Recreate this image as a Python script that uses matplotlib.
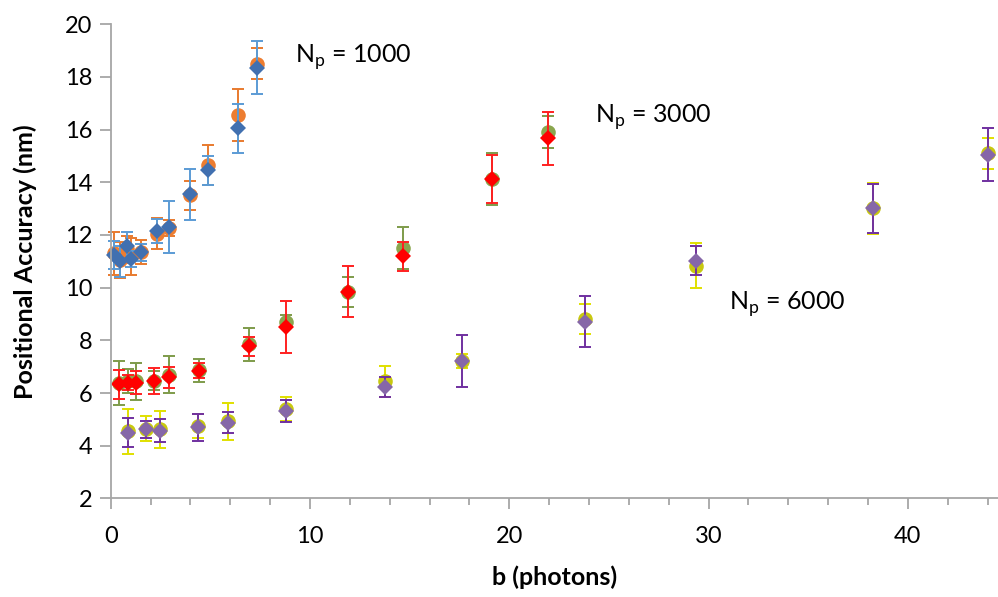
import matplotlib.pyplot as plt
from matplotlib.ticker import MultipleLocator

plt.rcParams['font.family'] = ['Lato', 'DejaVu Sans']
plt.rcParams['mathtext.fontset'] = 'custom'
plt.rcParams['mathtext.rm'] = 'Lato'

# Np = 1000
b_1000 = [0.15, 0.45, 0.8, 1.0, 1.5, 2.3, 2.9, 4.0, 4.9, 6.4, 7.35]
orange_y = [11.3, 11.05, 11.45, 11.2, 11.35, 12.05, 12.25, 13.5, 14.65, 16.55, 18.5]
orange_err = [0.8, 0.7, 0.5, 0.7, 0.45, 0.58, 0.3, 0.55, 0.77, 0.99, 0.59]
blue_y = [11.25, 11.0, 11.6, 11.1, 11.35, 12.15, 12.3, 13.55, 14.45, 16.05, 18.35]
blue_err = [0.54, 0.58, 0.5, 0.3, 0.32, 0.45, 1.0, 0.97, 0.55, 0.92, 1.0]

# Np = 3000
b_3000 = [0.43, 0.88, 1.27, 2.19, 2.93, 4.43, 6.94, 8.78, 11.89, 14.68, 19.12, 21.96]
green_y = [6.37, 6.45, 6.45, 6.47, 6.7, 6.87, 7.85, 8.71, 9.85, 11.52, 14.12, 15.92]
green_err = [0.83, 0.45, 0.71, 0.35, 0.71, 0.44, 0.62, 0.25, 0.57, 0.8, 1.0, 0.6]
red_y = [6.33, 6.4, 6.4, 6.45, 6.6, 6.85, 7.78, 8.52, 9.85, 11.2, 14.12, 15.67]
red_err = [0.54, 0.3, 0.42, 0.49, 0.4, 0.29, 0.36, 0.99, 0.97, 0.55, 0.92, 1.0]

# Np = 6000
b_6000 = [0.88, 1.76, 2.47, 4.4, 5.87, 8.78, 13.76, 17.61, 23.8, 29.35, 38.27, 44.04]
yellow_y = [4.55, 4.65, 4.62, 4.74, 4.93, 5.4, 6.45, 7.22, 8.81, 10.83, 13.01, 15.1]
yellow_err = [0.85, 0.47, 0.71, 0.45, 0.71, 0.46, 0.59, 0.27, 0.57, 0.85, 0.97, 0.59]
purple_y = [4.5, 4.62, 4.58, 4.7, 4.88, 5.33, 6.24, 7.22, 8.71, 11.02, 13.01, 15.05]
purple_err = [0.54, 0.32, 0.43, 0.5, 0.4, 0.42, 0.37, 0.99, 0.97, 0.55, 0.93, 1.01]

labels = ['N$_\\mathregular{p}$ = 1000', 'N$_\\mathregular{p}$ = 3000', 'N$_\\mathregular{p}$ = 6000']

fig = plt.figure(figsize=(9.98, 5.97), dpi=100)
ax = fig.add_axes([0.111, 0.165, 0.889, 0.7945])


def series(x, y, err, marker, mcolor, ecolor, ms):
    # error bars first, markers on top
    ax.errorbar(x, y, yerr=err, fmt='none', ecolor=ecolor, elinewidth=1.4,
                capsize=4, capthick=1.4, clip_on=False)
    ax.plot(x, y, marker, color=mcolor, ms=ms, mew=0, clip_on=False)


series(b_1000, orange_y, orange_err, 'o', '#ED7D31', '#E87A2E', 10.5)
series(b_1000, blue_y, blue_err, 'D', '#4170B0', '#5B9BD5', 8.5)
series(b_3000, green_y, green_err, 'o', '#8AA64E', '#7E9B4A', 10.5)
series(b_3000, red_y, red_err, 'D', '#FF0000', '#FF2020', 8.5)
series(b_6000, yellow_y, yellow_err, 'o', '#C8C810', '#E0E000', 10.5)
series(b_6000, purple_y, purple_err, 'D', '#8667A8', '#7030A0', 8.5)

ax.text(9.25, 18.52, labels[0], fontsize=18, va='baseline')
ax.text(24.3, 16.25, labels[1], fontsize=18, va='baseline')
ax.text(31.04, 9.15, labels[2], fontsize=18, va='baseline')

ax.set_xlim(0, 44.52)
ax.set_ylim(2, 20)
ax.xaxis.set_major_locator(MultipleLocator(10))
ax.xaxis.set_minor_locator(MultipleLocator(2))
ax.yaxis.set_major_locator(MultipleLocator(2))

for s in ['top', 'right']:
    ax.spines[s].set_visible(False)
for s in ['left', 'bottom']:
    ax.spines[s].set_color('#A6A6A6')
    ax.spines[s].set_linewidth(1.3)

ax.tick_params(axis='both', which='major', length=8, width=1.3, color='#A6A6A6',
               labelsize=17, pad=5)
ax.tick_params(axis='x', which='minor', length=5, width=1.3, color='#A6A6A6')
ax.tick_params(axis='x', which='major', pad=12)

ax.set_xlabel('b (photons)', fontsize=18, fontweight='bold', labelpad=13)
ax.set_ylabel('Positional Accuracy (nm)', fontsize=18, fontweight='bold', labelpad=20)

fig.savefig('out.png', dpi=100)
